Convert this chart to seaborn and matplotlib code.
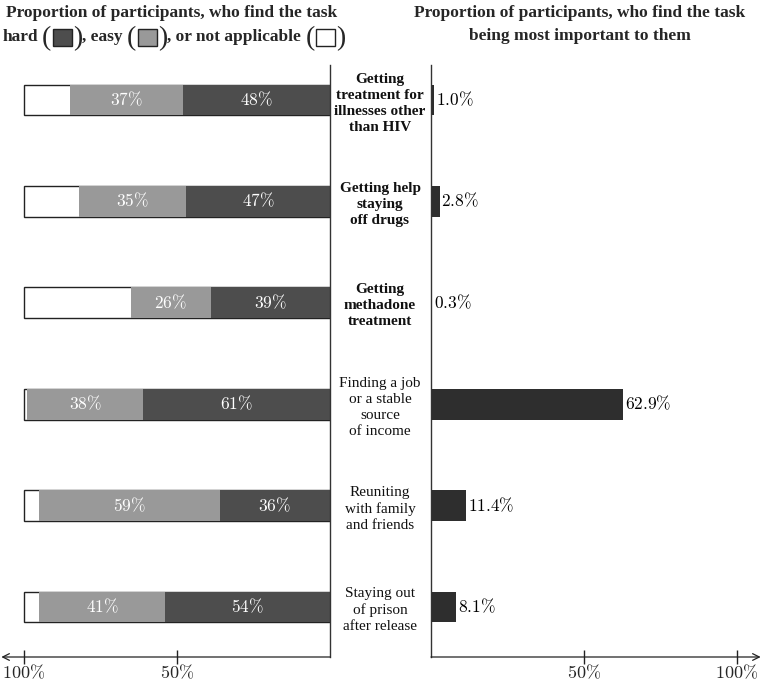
import matplotlib
matplotlib.use("Agg")
import matplotlib.pyplot as plt
import numpy as np
import pandas as pd
import seaborn as sns
from matplotlib.patches import Rectangle
from matplotlib.transforms import blended_transform_factory

# ---------------- data ----------------
tasks = [
    "Getting\ntreatment for\nillnesses other\nthan HIV",
    "Getting help\nstaying\noff drugs",
    "Getting\nmethadone\ntreatment",
    "Finding a job\nor a stable\nsource\nof income",
    "Reuniting\nwith family\nand friends",
    "Staying out\nof prison\nafter release",
]
task_bold = [True, True, True, False, False, False]
hard = [48, 47, 39, 61, 36, 54]
easy = [37, 35, 26, 38, 59, 41]
not_applicable = [15, 18, 35, 1, 5, 5]
most_important = [1.0, 2.8, 0.3, 62.9, 11.4, 8.1]
left_ticks = [100, 50]
left_ticklabels = ["100%", "50%"]
right_ticks = [50, 100]
right_ticklabels = ["50%", "100%"]

title_left_1 = "Proportion of participants, who find the task"
title_right = ["Proportion of participants, who find the task",
               "being most important to them"]

C_HARD = "#4d4d4d"
C_EASY = "#999999"
C_NA = "#ffffff"
C_IMP = "#2e2e2e"

sns.set_theme(style="white")
plt.rcParams["font.family"] = ["Liberation Serif", "DejaVu Serif"]
plt.rcParams["mathtext.fontset"] = "cm"

W, H = 762, 681
fig = plt.figure(figsize=(W / 100, H / 100), dpi=100)


def px_axes(x0, x1, y0, y1):
    return fig.add_axes([x0 / W, 1 - y1 / H, (x1 - x0) / W, (y1 - y0) / H])


SCALE = 3.06  # px per percent
axL = px_axes(0, 330, 65, 657)
axR = px_axes(431, 762, 65, 657)

df = pd.DataFrame({
    "task": tasks,
    "hard": hard,
    "easy": easy,
    "na": not_applicable,
    "imp": most_important,
})
df["total"] = df["hard"] + df["easy"] + df["na"]
df["he"] = df["hard"] + df["easy"]

BW = 0.305
sns.barplot(data=df, x="total", y="task", orient="h", color=C_NA, width=BW,
            edgecolor="#222222", linewidth=1.0, ax=axL, saturation=1)
sns.barplot(data=df, x="he", y="task", orient="h", color=C_EASY, width=BW,
            linewidth=0, ax=axL, saturation=1)
sns.barplot(data=df, x="hard", y="task", orient="h", color=C_HARD, width=BW,
            linewidth=0, ax=axL, saturation=1)

sns.barplot(data=df, x="imp", y="task", orient="h", color=C_IMP, width=BW,
            linewidth=0, ax=axR, saturation=1)

ylim = (5.493, -0.345)
for ax in (axL, axR):
    ax.set_ylim(*ylim)
    ax.set_ylabel("")
    ax.set_xlabel("")
    ax.set_yticks([])
    ax.set_facecolor("none")
    ax.spines["top"].set_visible(False)
    ax.spines["bottom"].set_visible(False)

axL.set_xlim(330 / SCALE, 0)
axR.set_xlim(0, 331 / SCALE)
axL.spines["left"].set_visible(False)
axR.spines["right"].set_visible(False)
axL.spines["right"].set_color("#333333")
axL.spines["right"].set_linewidth(1.0)
axR.spines["left"].set_color("#333333")
axR.spines["left"].set_linewidth(1.0)

axL.set_xticks(left_ticks)
axL.set_xticklabels([r"$%s\%%$" % t[:-1] for t in left_ticklabels])
axR.set_xticks(right_ticks)
axR.set_xticklabels([r"$%s\%%$" % t[:-1] for t in right_ticklabels])
for ax in (axL, axR):
    ax.tick_params(axis="x", direction="inout", length=10, width=1.0,
                   color="#222222", labelsize=13, pad=0, bottom=True)

# axis lines with arrows
axL.annotate("", xy=(0.004, 0), xytext=(1, 0), xycoords="axes fraction",
             arrowprops=dict(arrowstyle="->", lw=0.9, color="#222222",
                             shrinkA=0, shrinkB=0), annotation_clip=False)
axR.annotate("", xy=(0.996, 0), xytext=(0, 0), xycoords="axes fraction",
             arrowprops=dict(arrowstyle="->", lw=0.9, color="#222222",
                             shrinkA=0, shrinkB=0), annotation_clip=False)

# segment labels
for i, (h, e) in enumerate(zip(hard, easy)):
    axL.text(h / 2, i, r"$%d\%%$" % h, color="white", ha="center",
             va="center", fontsize=12.5)
    axL.text(h + e / 2, i, r"$%d\%%$" % e, color="white", ha="center",
             va="center", fontsize=12.5)
for i, v in enumerate(most_important):
    axR.text(v + 0.6, i, r"$%.1f\%%$" % v, color="black", ha="left",
             va="center", fontsize=12.5)

# middle task labels
tr = blended_transform_factory(fig.transFigure, axL.transData)
for i, (t, b) in enumerate(zip(tasks, task_bold)):
    fig.text(380 / W, i + 0.03, t, transform=tr, ha="center", va="center",
             fontsize=11, fontweight="bold" if b else "normal",
             linespacing=1.3, color="#111111")

# titles
TFS = 12.5
fig.text(172 / W, 1 - 13 / H, title_left_1, ha="center", va="center",
         fontsize=TFS, fontweight="bold")
fig.text(580 / W, 1 - 13 / H, title_right[0], ha="center", va="center",
         fontsize=TFS, fontweight="bold")
fig.text(580 / W, 1 - 36 / H, title_right[1], ha="center", va="center",
         fontsize=TFS, fontweight="bold")

# legend line: hard (■), easy (■), or not applicable (□)
renderer = fig.canvas.get_renderer()
pieces = ["hard", " ", "(", C_HARD, ")", ", easy", " ", "(", C_EASY, ")",
          ", or not applicable", " ", "(", C_NA, ")"]
ycen = 1 - 37 / H
SQ_W, SQ_H = 19, 17
placed = []
for p in pieces:
    if p.startswith("#"):
        placed.append((p, None, SQ_W + 3))
    elif p == " ":
        placed.append((p, None, 4))
    else:
        big = p in ("(", ")")
        o = fig.text(0, ycen - (1.5 / H if big else 0), p, ha="left", va="center",
                     fontsize=20 if big else TFS,
                     fontweight="normal" if big else "bold")
        bb = o.get_window_extent(renderer)
        placed.append((p, o, bb.width))
total = sum(w for _, _, w in placed)
x = 174 - total / 2
for p, o, w in placed:
    if p.startswith("#"):
        fig.patches.append(Rectangle(((x + 1.5) / W, ycen - SQ_H / 2 / H),
                                     SQ_W / W, SQ_H / H,
                                     transform=fig.transFigure,
                                     facecolor=p, edgecolor="#222222",
                                     linewidth=1.0))
    elif o is not None:
        o.set_x(x / W)
    x += w

fig.savefig("out.png", dpi=100)
